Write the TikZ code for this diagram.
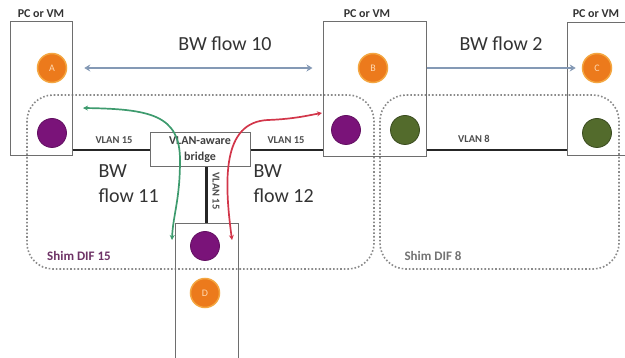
\documentclass[tikz,border=0pt]{standalone}
\usepackage{fontspec}
\setmainfont{Carlito}
\usetikzlibrary{arrows.meta,calc}
\definecolor{boxgray}{HTML}{6E6E6E}
\definecolor{bwblue}{HTML}{8499B5}
\definecolor{orangec}{HTML}{EC7A1C}
\definecolor{orangeo}{HTML}{F4A640}
\definecolor{purplec}{HTML}{7A1379}
\definecolor{greenc}{HTML}{536B2C}
\definecolor{greenar}{HTML}{3E9B6E}
\definecolor{redar}{HTML}{D2364A}
\definecolor{dotgray}{HTML}{8A8A8A}
\definecolor{shimpurple}{HTML}{6E3366}
\tikzset{
  pcbox/.style={draw=boxgray, line width=1pt, inner sep=0pt},
  pclabel/.style={font=\bfseries\fontsize{12}{13}\selectfont, text=black!80},
  dot/.style={circle, minimum size=29pt, inner sep=0pt, font=\fontsize{10}{10}\selectfont, text=white!70!orange},
  orangedot/.style={dot, fill=orangec, draw=orangeo, line width=1.5pt},
  purpledot/.style={dot, fill=purplec, draw=purplec!80!black, line width=0.8pt},
  greendot/.style={dot, fill=greenc, draw=greenc!70!black, line width=0.8pt},
  vlan/.style={line width=2.4pt, black!85},
  vlanlabel/.style={font=\bfseries\fontsize{10.5}{11}\selectfont, text=black!70},
  bw/.style={line width=2.6pt, bwblue, -{Stealth[length=6pt,width=7pt]}},
  bwboth/.style={bw, {Stealth[length=6pt,width=7pt]}-{Stealth[length=6pt,width=7pt]}},
  bwtext/.style={font=\fontsize{20}{22}\selectfont, text=black!80},
  shim/.style={draw=dotgray, line width=1.6pt, dotted, rounded corners=26pt},
  shimlabel/.style={font=\bfseries\fontsize{13}{14}\selectfont},
  flowarrow/.style={line width=1.7pt, {Stealth[length=5pt,width=5pt]}-{Stealth[length=5pt,width=5pt]}},
}
\begin{document}
\begin{tikzpicture}[x=1pt,y=-1pt]
\useasboundingbox (0,0) rectangle (625,358);
\clip (0,0) rectangle (625,358);
% shim DIF regions
\draw[shim] (27,95) rectangle (374,269);
\draw[shim] (380,95) rectangle (619,269);
\node[shimlabel, text=shimpurple] (shim15) at (79,256) {Shim DIF 15};
\node[shimlabel, text=black!55] (shim8) at (433,256) {Shim DIF 8};
% PC boxes
\node[pcbox, minimum width=62pt, minimum height=134pt] (boxA) at (41,89) {};
\node[pcbox, minimum width=103pt, minimum height=135pt] (boxB) at (374.5,89.5) {};
\node[pcbox, minimum width=73pt, minimum height=133pt] (boxC) at (603.5,89.5) {};
\node[pcbox, minimum width=63pt, minimum height=136pt] (boxD) at (206.5,292) {};
\node[pclabel] (labA) at (41,14) {PC or VM};
\node[pclabel] (labB) at (367,14) {PC or VM};
\node[pclabel] (labC) at (596,14) {PC or VM};
% bridge
\node[draw=boxgray, line width=1pt, fill=white, minimum width=100pt, minimum height=34pt, inner sep=0pt, align=center,
      font=\bfseries\fontsize{12}{16}\selectfont, text=black!75] (bridge) at (200,150) {VLAN-aware\\bridge};
% VLAN links
\draw[vlan] (boxA.east |- bridge.west) -- (bridge.west);
\draw[vlan] (bridge.east) -- (bridge.east -| boxB.west);
\draw[vlan] (boxB.east |- bridge.east) -- (boxC.west |- bridge.east);
\draw[vlan] (boxD.north |- bridge.south) -- (boxD.north);
\node[vlanlabel] (v15a) at (114,140) {VLAN 15};
\node[vlanlabel] (v15b) at (286,140) {VLAN 15};
\node[vlanlabel] (v8) at (474,139) {VLAN 8};
\node[vlanlabel, rotate=-90] (v15c) at (216,191) {VLAN 15};
% circles
\node[orangedot] (cA) at (52,68) {A};
\node[purpledot] (pA) at (52,133) {};
\node[orangedot] (cB) at (373,68) {B};
\node[purpledot] (pB) at (346,130) {};
\node[greendot] (gB) at (405,130) {};
\node[orangedot] (cC) at (597,68) {C};
\node[greendot] (gC) at (597,133) {};
\node[purpledot] (pD) at (205,246) {};
\node[orangedot] (cD) at (205,293) {D};
% BW flows
\draw[bwboth, shorten <=17pt, shorten >=10pt] (cA.east) -- (cA.east -| boxB.west);
\draw[bw, shorten >=6pt] (boxB.east |- cC.west) -- (cC.west);
\node[bwtext] (t10) at (225,44) {BW flow 10};
\node[bwtext] (t2) at (501,44) {BW flow 2};
\node[bwtext, align=left, anchor=north west, font=\fontsize{20}{25}\selectfont] (t11) at (95,161) {BW\\flow 11};
\node[bwtext, align=left, anchor=north west, font=\fontsize{20}{25}\selectfont] (t12) at (250,161) {BW\\flow 12};
% green and red flows
\coordinate (gStart) at (83,108);
\coordinate (gEnd) at (172,240);
\draw[flowarrow, greenar] (gStart) .. controls (150,109) and (180,115) .. (180,160) .. controls (180,200) and (173,215) .. (gEnd);
\coordinate (rStart) at (232,240);
\coordinate (rEnd) at (322,113);
\draw[flowarrow, redar] (rStart) .. controls (224,180) and (222,122) .. (268,120) .. controls (295,119) and (310,115) .. (rEnd);
\end{tikzpicture}
\end{document}
